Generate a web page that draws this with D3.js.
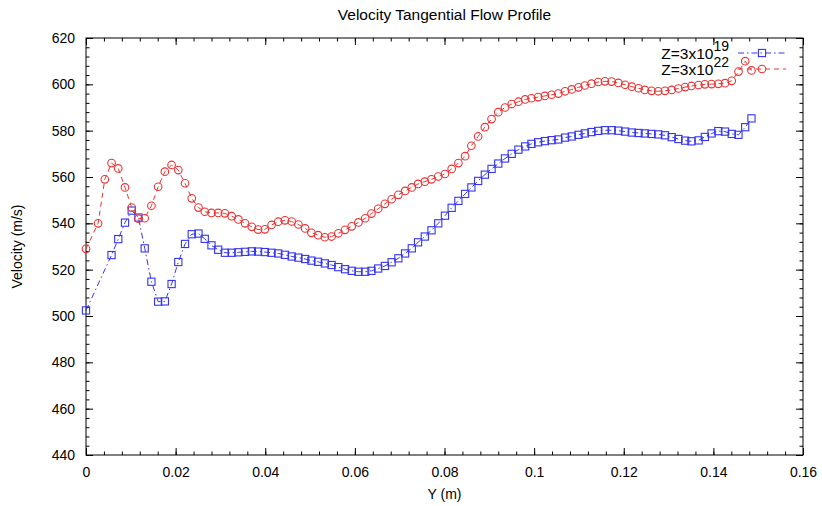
<!DOCTYPE html>
<html>
<head>
<meta charset="utf-8">
<script src="https://cdn.jsdelivr.net/npm/d3@7/dist/d3.min.js"></script>
<style>
  body { margin: 0; background: #fff; }
  svg { display: block; font-family: "Liberation Sans", Arial, Helvetica, sans-serif; }
  .axis path { display: none; }
  .axis line { stroke: #000; stroke-width: 1; }
  .axis text { font-size: 14px; fill: #000; font-family: "Liberation Sans", Arial, sans-serif; }
</style>
</head>
<body>
<svg id="chart" width="822" height="506"></svg>
<script>
// position along the flow (Y, m)
const yPos = [0,
  0.0027, 0.0042, 0.0057, 0.0072, 0.0087, 0.0102, 0.0117, 0.0131, 0.0146, 0.0161,
  0.0176, 0.0191, 0.0206, 0.0221, 0.0236, 0.0251, 0.0265, 0.0280, 0.0295, 0.0310,
  0.0325, 0.0340, 0.0355, 0.0370, 0.0384, 0.0399, 0.0414, 0.0429, 0.0444, 0.0459,
  0.0474, 0.0489, 0.0503, 0.0518, 0.0533, 0.0548, 0.0563, 0.0578, 0.0593, 0.0608,
  0.0623, 0.0637, 0.0652, 0.0667, 0.0682, 0.0697, 0.0712, 0.0727, 0.0741, 0.0756,
  0.0771, 0.0786, 0.0801, 0.0816, 0.0831, 0.0846, 0.0860, 0.0875, 0.0890, 0.0905,
  0.0920, 0.0935, 0.0950, 0.0965, 0.0980, 0.0994, 0.1009, 0.1024, 0.1039, 0.1054,
  0.1069, 0.1084, 0.1099, 0.1113, 0.1128, 0.1143, 0.1158, 0.1173, 0.1188, 0.1203,
  0.1218, 0.1233, 0.1247, 0.1262, 0.1277, 0.1292, 0.1307, 0.1322, 0.1337, 0.1351,
  0.1367, 0.1381, 0.1396, 0.1411, 0.1426, 0.1441, 0.1456, 0.1471, 0.1485];

// Z=3x10^19 (blue squares), null = no sample there
const velZ19 = [502.4, null, null, 526.3, 533.2, 540.3, 545.5, 542.5, 529.2, 514.8,
  506.2, 506.3, 513.8, 523.3, 531.1, 535.3, 535.6, 533.3, 530.5, 528.6,
  527.3, 527.3, 527.5, 527.7, 527.9, 527.8, 527.6, 527.3, 527.0, 526.4,
  525.7, 525.2, 524.6, 523.9, 523.4, 522.7, 522.0, 521.1, 520.2, 519.5,
  519.1, 519.1, 519.5, 520.5, 521.6, 523.2, 524.9, 527.0, 529.2, 531.8,
  534.3, 537.0, 540.0, 543.3, 546.7, 549.7, 552.7, 555.5, 558.3, 561.0,
  563.5, 565.8, 568.0, 570.0, 571.8, 573.2, 574.3, 575.0, 575.5, 575.9,
  576.2, 577.0, 577.5, 578.2, 578.8, 579.4, 579.9, 580.2, 580.2, 580.0,
  579.6, 579.2, 579.0, 578.8, 578.6, 578.4, 578.0, 577.2, 576.4, 575.7,
  575.4, 575.8, 577.3, 578.8, 579.8, 579.6, 578.6, 578.2, 581.5, 585.3];

// Z=3x10^22 (red circles)
const velZ22 = [529.0, 540.0, 559.0, 566.0, 563.7, 555.5, 546.8, 542.0, 542.2, 547.6,
  555.8, 562.3, 565.2, 563.0, 557.3, 550.8, 546.8, 545.0, 544.5, 544.5,
  544.3, 543.1, 541.7, 540.0, 538.5, 537.3, 537.4, 539.3, 540.7, 541.3,
  540.8, 539.5, 537.8, 535.9, 534.9, 534.0, 534.3, 535.7, 537.2, 538.7,
  540.4, 542.2, 544.2, 546.3, 548.4, 550.4, 552.3, 554.0, 555.5, 557.0,
  558.0, 559.0, 560.2, 561.3, 563.5, 566.0, 569.0, 573.5, 577.5, 581.5,
  585.0, 588.0, 590.0, 591.5, 592.5, 593.5, 594.0, 594.5, 595.0, 595.5,
  596.0, 597.0, 597.8, 598.7, 599.5, 600.3, 601.0, 601.3, 601.2, 600.6,
  599.8, 599.0, 598.3, 597.6, 597.2, 597.0, 597.2, 597.6, 598.2, 598.8,
  599.3, 599.7, 600.0, 600.1, 600.2, 600.5, 601.5, 605.5, 610.0, 606.0];

const xTicks = [0, 0.02, 0.04, 0.06, 0.08, 0.1, 0.12, 0.14, 0.16];
const yTicks = [440, 460, 480, 500, 520, 540, 560, 580, 600, 620];

const BLUE = '#3434f2';
const RED = '#e83434';

const pl = 86, pr = 803, pt = 38, pb = 455;

const svg = d3.select('#chart');

const x = d3.scaleLinear().domain([0, 0.16]).range([pl, pr]);
const y = d3.scaleLinear().domain([440, 620]).range([pb, pt]);

const xMinor = d3.range(0, 0.1601, 0.004);
const yMinor = d3.range(440, 620.1, 4);

// minor ticks (inward, all four sides)
svg.append('g').attr('class', 'axis').attr('transform', `translate(0,${pb})`)
  .call(d3.axisBottom(x).tickValues(xMinor).tickSize(-3.5).tickFormat(''));
svg.append('g').attr('class', 'axis').attr('transform', `translate(0,${pt})`)
  .call(d3.axisTop(x).tickValues(xMinor).tickSize(-3.5).tickFormat(''));
svg.append('g').attr('class', 'axis').attr('transform', `translate(${pl},0)`)
  .call(d3.axisLeft(y).tickValues(yMinor).tickSize(-3.5).tickFormat(''));
svg.append('g').attr('class', 'axis').attr('transform', `translate(${pr},0)`)
  .call(d3.axisRight(y).tickValues(yMinor).tickSize(-3.5).tickFormat(''));

// major ticks
svg.append('g').attr('class', 'axis').attr('transform', `translate(0,${pb})`)
  .call(d3.axisBottom(x).tickValues(xTicks).tickSize(-7).tickPadding(12).tickFormat(d3.format('~g')));
svg.append('g').attr('class', 'axis').attr('transform', `translate(0,${pt})`)
  .call(d3.axisTop(x).tickValues(xTicks).tickSize(-7).tickFormat(''));
svg.append('g').attr('class', 'axis').attr('transform', `translate(${pl},0)`)
  .call(d3.axisLeft(y).tickValues(yTicks).tickSize(-7).tickPadding(11));
svg.append('g').attr('class', 'axis').attr('transform', `translate(${pr},0)`)
  .call(d3.axisRight(y).tickValues(yTicks).tickSize(-7).tickFormat(''));

// frame
svg.append('rect')
  .attr('x', pl).attr('y', pt)
  .attr('width', pr - pl).attr('height', pb - pt)
  .attr('fill', 'none').attr('stroke', '#000').attr('stroke-width', 1);

// titles
svg.append('text').attr('x', (pl + pr) / 2).attr('y', 20)
  .attr('text-anchor', 'middle').style('font-size', '15.5px')
  .text('Velocity Tangential Flow Profile');
svg.append('text').attr('x', (pl + pr) / 2).attr('y', 499)
  .attr('text-anchor', 'middle').style('font-size', '14px')
  .text('Y (m)');
svg.append('text')
  .attr('transform', `translate(22,${(pt + pb) / 2}) rotate(-90)`)
  .attr('text-anchor', 'middle').style('font-size', '14px')
  .text('Velocity (m/s)');

function points(vals) {
  return yPos.map((p, i) => ({ p, v: vals[i] })).filter(d => d.v != null);
}

const line = d3.line().x(d => x(d.p)).y(d => y(d.v));

const series = [
  { name: '19', vals: velZ19, color: BLUE, dash: '6,3,1.5,3', mark: 'square', ly: 53 },
  { name: '22', vals: velZ22, color: RED, dash: '5,4', mark: 'circle', ly: 69 }
];

function drawMark(g, mark, cx, cy, color) {
  if (mark === 'square') {
    g.append('rect').attr('x', cx - 3.6).attr('y', cy - 3.6)
      .attr('width', 7.2).attr('height', 7.2)
      .attr('fill', 'none').attr('stroke', color).attr('stroke-width', 1.1);
  } else {
    g.append('circle').attr('cx', cx).attr('cy', cy).attr('r', 3.8)
      .attr('fill', 'none').attr('stroke', color).attr('stroke-width', 1.1);
  }
}

series.forEach(s => {
  const pts = points(s.vals);
  const g = svg.append('g');
  g.append('path').datum(pts)
    .attr('d', line)
    .attr('fill', 'none').attr('stroke', s.color).attr('stroke-width', 1)
    .attr('stroke-dasharray', s.dash);
  pts.forEach(d => drawMark(g, s.mark, x(d.p), y(d.v), s.color));

  // legend entry
  const t = svg.append('text').attr('x', 729).attr('y', s.ly + 5.8)
    .attr('text-anchor', 'end').style('font-size', '15.5px');
  t.append('tspan').text('Z=3x10');
  t.append('tspan').attr('dy', -7.5).style('font-size', '14px').text(s.name);
  svg.append('line').attr('x1', 738).attr('x2', 786).attr('y1', s.ly).attr('y2', s.ly)
    .attr('stroke', s.color).attr('stroke-width', 1).attr('stroke-dasharray', s.dash);
  drawMark(svg.append('g'), s.mark, 762, s.ly, s.color);
});
</script>
</body>
</html>
